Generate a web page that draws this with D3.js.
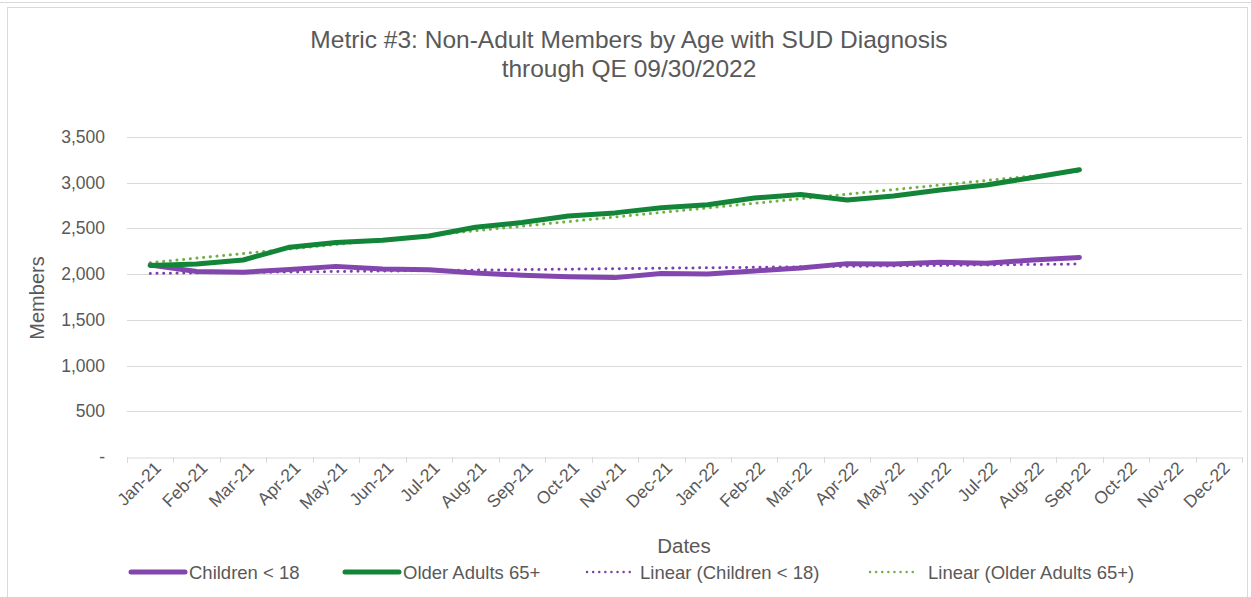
<!DOCTYPE html>
<html>
<head>
<meta charset="utf-8">
<script src="https://cdn.jsdelivr.net/npm/d3@7"></script>
<style>
  body { margin: 0; background: #fff; }
  svg { font-family: "Liberation Sans", Arial, sans-serif; }
</style>
</head>
<body>
<div class="chart"></div>
<script>
// chart data
var months = ["Jan-21", "Feb-21", "Mar-21", "Apr-21", "May-21", "Jun-21", "Jul-21", "Aug-21",
    "Sep-21", "Oct-21", "Nov-21", "Dec-21", "Jan-22", "Feb-22", "Mar-22", "Apr-22",
    "May-22", "Jun-22", "Jul-22", "Aug-22", "Sep-22", "Oct-22", "Nov-22", "Dec-22"];
var children = [2100, 2030, 2022, 2050, 2085, 2055, 2048, 2012, 1988, 1972, 1962, 2008,
    2002, 2035, 2068, 2115, 2112, 2130, 2118, 2155, 2182];
var olderAdults = [2095, 2110, 2155, 2295, 2345, 2370, 2418, 2512, 2565, 2635, 2670, 2725,
    2760, 2832, 2872, 2810, 2855, 2920, 2975, 3058, 3142];
var yTicks = [0, 500, 1000, 1500, 2000, 2500, 3000, 3500];
var seriesNames = ["Children < 18", "Older Adults 65+", "Linear (Children < 18)", "Linear (Older Adults 65+)"];

var svgWidth = 1251;
var svgHeight = 597;
var margin = { top: 137, right: 9, bottom: 140, left: 127 };
var width = svgWidth - margin.left - margin.right;
var height = svgHeight - margin.top - margin.bottom;

var purple = "#8346ae";
var green = "#128538";
var trendPurple = "#7c3fb3";
var trendGreen = "#71b043";
var textColor = "#595959";

var svg = d3.select(".chart")
    .append("svg")
    .attr("width", svgWidth)
    .attr("height", svgHeight);

// outer frame lines
svg.append("line").attr("x1", 0).attr("x2", svgWidth).attr("y1", 2.5).attr("y2", 2.5)
    .attr("stroke", "#d9d9d9").attr("stroke-width", 1);
svg.append("rect").attr("x", 7.5).attr("y", 7.5).attr("width", 1240).attr("height", 600)
    .attr("fill", "none").attr("stroke", "#d9d9d9").attr("stroke-width", 1);

var chart = svg.append("g")
    .attr("transform", `translate(${margin.left},${margin.top})`);

var xScale = d3.scaleBand().domain(months).range([0, width]);
var yScale = d3.scaleLinear().domain([0, 3500]).range([height, 0]);

// gridlines
chart.selectAll(".grid")
    .data(yTicks.filter(function (d) { return d > 0; }))
    .enter()
    .append("line")
    .attr("x1", 0)
    .attr("x2", width)
    .attr("y1", function (d) { return Math.round(yScale(d)) + 0.5; })
    .attr("y2", function (d) { return Math.round(yScale(d)) + 0.5; })
    .attr("stroke", "#d9d9d9")
    .attr("stroke-width", 1);

// y-axis labels
chart.selectAll(".ylab")
    .data(yTicks)
    .enter()
    .append("text")
    .attr("x", -22)
    .attr("y", function (d) { return yScale(d) + 6; })
    .attr("text-anchor", "end")
    .attr("font-size", "17.5px")
    .attr("fill", textColor)
    .text(function (d) { return d === 0 ? "-" : d3.format(",")(d); });

// x-axis
var xAxis = d3.axisBottom(xScale).tickSizeOuter(0).tickSizeInner(5).tickFormat("");
var xg = chart.append("g")
    .attr("transform", `translate(0,${Math.round(height) + 0.5})`)
    .call(xAxis);
xg.select(".domain").attr("stroke", "#d9d9d9");
xg.selectAll(".tick").remove();
// category boundary tick marks
chart.selectAll(".xtick")
    .data(d3.range(months.length + 1))
    .enter()
    .append("line")
    .attr("x1", function (i) { return Math.round(i * xScale.step()) + 0.5; })
    .attr("x2", function (i) { return Math.round(i * xScale.step()) + 0.5; })
    .attr("y1", height)
    .attr("y2", height + 6)
    .attr("stroke", "#d9d9d9");

chart.selectAll(".xlab")
    .data(months)
    .enter()
    .append("text")
    .attr("text-anchor", "end")
    .attr("font-size", "17.5px")
    .attr("fill", textColor)
    .attr("transform", function (d) {
        var x = xScale(d) + xScale.bandwidth() / 2 + 12;
        return `translate(${x},${height + 12})rotate(-45)`;
    })
    .text(function (d) { return d; });

// least-squares trend line for a series
function trend(values) {
    var mx = d3.mean(values, function (v, i) { return i; });
    var my = d3.mean(values);
    var num = d3.sum(values, function (v, i) { return (i - mx) * (v - my); });
    var den = d3.sum(values, function (v, i) { return (i - mx) * (i - mx); });
    var b = num / den;
    return values.map(function (v, i) { return my + b * (i - mx); });
}

var line = d3.line()
    .x(function (d, i) { return xScale(months[i]) + xScale.bandwidth() / 2; })
    .y(function (d) { return yScale(d); });

// trend lines
chart.append("path")
    .datum(trend(children))
    .attr("d", line)
    .attr("fill", "none")
    .attr("stroke", trendPurple)
    .attr("stroke-width", 3)
    .attr("stroke-linecap", "round")
    .attr("stroke-dasharray", "0.1,6.6");

chart.append("path")
    .datum(trend(olderAdults))
    .attr("d", line)
    .attr("fill", "none")
    .attr("stroke", trendGreen)
    .attr("stroke-width", 3)
    .attr("stroke-linecap", "round")
    .attr("stroke-dasharray", "0.1,6.6");

// main series
chart.append("path")
    .datum(children)
    .attr("d", line)
    .attr("fill", "none")
    .attr("stroke", purple)
    .attr("stroke-width", 5)
    .attr("stroke-linejoin", "round")
    .attr("stroke-linecap", "round");

chart.append("path")
    .datum(olderAdults)
    .attr("d", line)
    .attr("fill", "none")
    .attr("stroke", green)
    .attr("stroke-width", 5)
    .attr("stroke-linejoin", "round")
    .attr("stroke-linecap", "round");

// title
svg.append("text")
    .attr("x", 629)
    .attr("y", 48)
    .attr("text-anchor", "middle")
    .attr("font-size", "24.5px")
    .attr("fill", textColor)
    .text("Metric #3: Non-Adult Members by Age with SUD Diagnosis");
svg.append("text")
    .attr("x", 629)
    .attr("y", 77)
    .attr("text-anchor", "middle")
    .attr("font-size", "24.5px")
    .attr("fill", textColor)
    .text("through QE 09/30/2022");

// axis titles
svg.append("text")
    .attr("x", 684)
    .attr("y", 553)
    .attr("text-anchor", "middle")
    .attr("font-size", "20.5px")
    .attr("fill", textColor)
    .text("Dates");
svg.append("text")
    .attr("transform", "translate(44,298)rotate(-90)")
    .attr("text-anchor", "middle")
    .attr("font-size", "20px")
    .attr("fill", textColor)
    .text("Members");

// legend
var legendItems = [
    { x: 131, color: purple, dotted: false, width: 54 },
    { x: 345, color: green, dotted: false, width: 54 },
    { x: 587, color: trendPurple, dotted: true, width: 43 },
    { x: 870, color: trendGreen, dotted: true, width: 48 }
];
var legend = svg.selectAll(".legend")
    .data(legendItems)
    .enter()
    .append("g")
    .attr("transform", function (d) { return `translate(${d.x},572)`; });
legend.append("line")
    .attr("x1", 0)
    .attr("x2", function (d) { return d.width; })
    .attr("stroke", function (d) { return d.color; })
    .attr("stroke-width", function (d) { return d.dotted ? 2.4 : 5; })
    .attr("stroke-linecap", "round")
    .attr("stroke-dasharray", function (d) { return d.dotted ? "0.1,6" : null; });
legend.append("text")
    .attr("x", function (d) { return d.dotted ? d.width + 10 : d.width + 4; })
    .attr("y", 6.5)
    .attr("font-size", "18.5px")
    .attr("fill", textColor)
    .text(function (d, i) { return seriesNames[i]; });
</script>
</body>
</html>
